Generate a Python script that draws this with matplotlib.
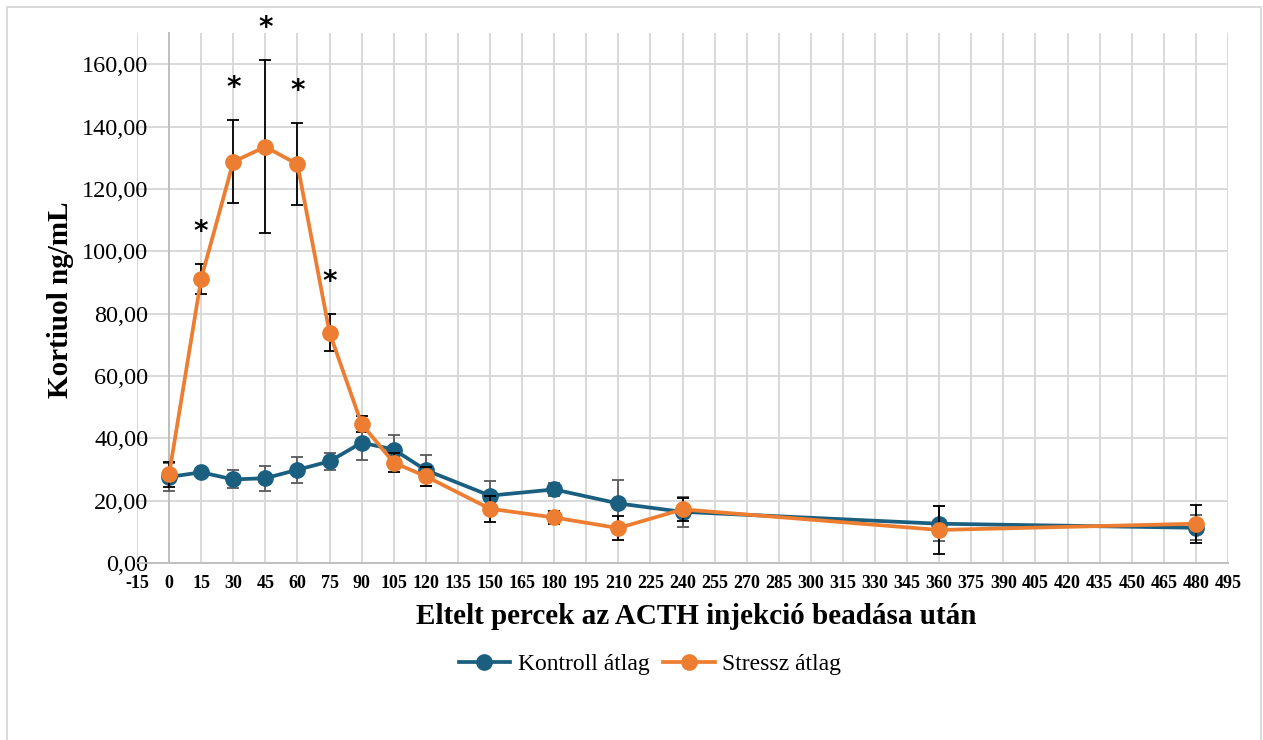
import matplotlib
matplotlib.use("Agg")
import matplotlib.pyplot as plt
from matplotlib.lines import Line2D

plt.rcParams['font.family'] = ['Liberation Serif', 'DejaVu Serif']

minutes = [0, 15, 30, 45, 60, 75, 90, 105, 120, 150, 180, 210, 240, 360, 480]
kontroll = [27.6, 29.1, 26.8, 27.2, 29.9, 32.6, 38.6, 36.4, 29.8, 21.6, 23.6, 19.1, 16.4, 12.6, 11.3]
kontroll_err = [4.4, 1.0, 2.9, 4.0, 4.2, 2.7, 5.5, 4.7, 5.0, 4.8, 2.0, 7.6, 4.8, 5.6, 4.0]
stressz = [28.4, 91.2, 128.7, 133.5, 127.9, 73.9, 44.6, 32.2, 27.8, 17.4, 14.6, 11.2, 17.2, 10.6, 12.6]
stressz_err = [4.0, 4.8, 13.3, 27.8, 13.1, 5.9, 2.6, 3.0, 3.0, 4.2, 2.1, 3.8, 3.8, 7.8, 6.1]
significant = [15, 30, 45, 60, 75]

xticks = list(range(-15, 496, 15))
yticks = list(range(0, 161, 20))

BLUE = '#1b5f80'
ORANGE = '#ed7d31'

W, H = 1263, 740
fig = plt.figure(figsize=(W / 100, H / 100), dpi=100)
ax = fig.add_axes([137 / W, 1 - 563 / H, (1228 - 137) / W, (563 - 33) / H])

for s in ['top', 'right']:
    ax.spines[s].set_visible(False)
ax.spines['left'].set_position(('data', 0))
ax.spines['left'].set_color('#bfbfbf')
ax.spines['bottom'].set_color('#bfbfbf')
ax.spines['left'].set_linewidth(1.4)
ax.spines['bottom'].set_linewidth(1.4)

ax.set_xlim(-15, 495)
ax.set_ylim(0, 170)
ax.set_xticks(xticks)
ax.set_yticks(yticks)
ax.set_xticklabels([str(t) for t in xticks], fontsize=13, fontweight='bold')
ax.set_yticklabels([f"{t:.2f}".replace('.', ',') for t in yticks], fontsize=17.5)
ax.grid(True, color='#d9d9d9', linewidth=1.4)
ax.set_axisbelow(True)
ax.tick_params(axis='both', length=0)
ax.tick_params(axis='y', pad=15)
ax.tick_params(axis='x', pad=9)

ax.errorbar(minutes, kontroll, yerr=kontroll_err, fmt='none', ecolor='#595959',
            elinewidth=1.3, capsize=4, capthick=1.3, zorder=3)
ax.plot(minutes, kontroll, color=BLUE, linewidth=2.7, marker='o', markersize=11,
        zorder=4, clip_on=False)
ax.errorbar(minutes, stressz, yerr=stressz_err, fmt='none', ecolor='black',
            elinewidth=1.3, capsize=4, capthick=1.3, zorder=5)
ax.plot(minutes, stressz, color=ORANGE, linewidth=2.7, marker='o', markersize=11,
        zorder=6, clip_on=False)

for m in significant:
    i = minutes.index(m)
    top = stressz[i] + stressz_err[i]
    ax.annotate('*', xy=(m, top), xytext=(0, 23), textcoords='offset points',
                ha='center', va='center', fontsize=20, fontweight='bold',
                annotation_clip=False, family=['DejaVu Sans'])

ax.set_xlabel('Eltelt percek az ACTH injekció beadása után', fontsize=21,
              fontweight='bold')
ax.xaxis.set_label_coords((696 - 137) / (1228 - 137), -(617 - 563) / (563 - 33))
ax.xaxis.label.set_va('center')
fig.text(60 / W, 1 - 300 / H, 'Kortiuol ng/mL', rotation=90, fontsize=21,
         fontweight='bold', ha='center', va='center')

handles = [Line2D([], [], color=BLUE, linewidth=2.7, marker='o', markersize=11),
           Line2D([], [], color=ORANGE, linewidth=2.7, marker='o', markersize=11)]
fig.legend(handles, ['Kontroll átlag', 'Stressz átlag'], loc='center',
           bbox_to_anchor=(650 / W, 1 - 664 / H), ncol=2, frameon=False, fontsize=17,
           handlelength=2.2, handletextpad=0.3, columnspacing=0.6)

# chart border
fig.add_artist(Line2D([7 / W, 7 / W, 1261 / W, 1261 / W], [0, 1 - 7 / H, 1 - 7 / H, 0],
                      color='#d9d9d9', linewidth=1.4, transform=fig.transFigure))

fig.savefig('out.png', dpi=100)
